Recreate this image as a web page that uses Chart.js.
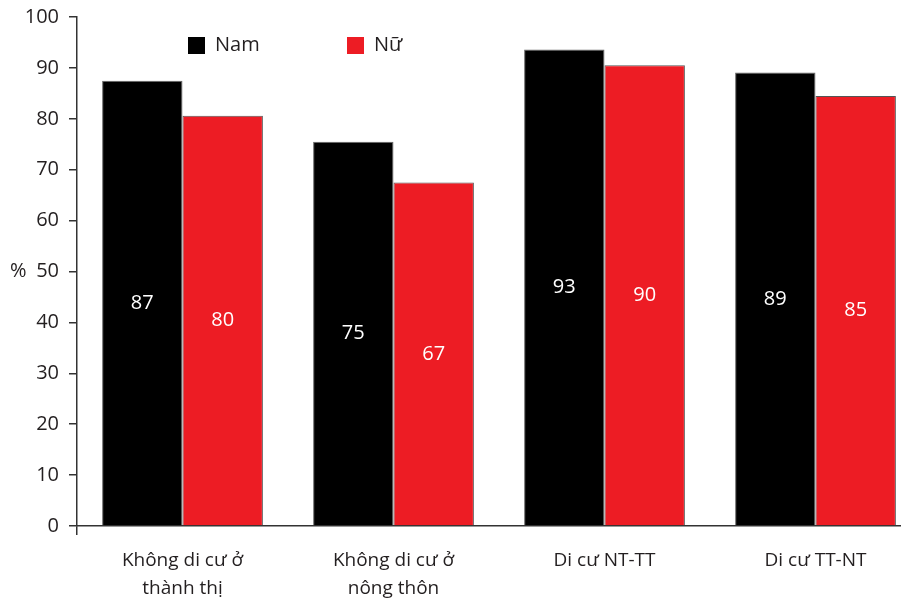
<!DOCTYPE html>
<html>
<head>
<meta charset="utf-8">
<script src="https://cdn.jsdelivr.net/npm/chart.js@4.4.0/dist/chart.umd.min.js"></script>
<style>
  html, body { margin: 0; padding: 0; background: #fff; overflow: hidden; }
  #wrap { width: 901px; height: 601px; overflow: hidden; }
  canvas { display: block; }
</style>
</head>
<body>
<div id="wrap"><canvas id="chart" width="921" height="601"></canvas></div>
<script>
  // categories and series
  const CATEGORIES = [
    ["Không di cư ở", "thành thị"],
    ["Không di cư ở", "nông thôn"],
    "Di cư NT-TT",
    "Di cư TT-NT",
  ];
  const NAM = [87.5, 75.5, 93.6, 89.1];
  const NU = [80.6, 67.5, 90.5, 84.5];
  // printed labels inside the bars
  const NAM_LABELS = ["87", "75", "93", "89"];
  const NU_LABELS = ["80", "67", "90", "85"];
  const Y_TICKS = [0, 10, 20, 30, 40, 50, 60, 70, 80, 90, 100];

  const FONT = "'Open Sans', 'Noto Sans', sans-serif";
  const INK = "#231f20";
  const AXIS = "#333333";

  const barLabels = {
    id: "barLabels",
    afterDatasetsDraw(chart) {
      const ctx = chart.ctx;
      const texts = [NAM_LABELS, NU_LABELS];
      ctx.save();
      ctx.font = "20px " + FONT;
      ctx.fillStyle = "#ffffff";
      ctx.textAlign = "center";
      ctx.textBaseline = "middle";
      chart.data.datasets.forEach((ds, d) => {
        chart.getDatasetMeta(d).data.forEach((bar, i) => {
          ctx.fillText(texts[d][i], bar.x, (bar.y + bar.base) / 2);
        });
      });
      ctx.restore();
    },
  };

  const insideLegend = {
    id: "insideLegend",
    afterDraw(chart) {
      const ctx = chart.ctx;
      const area = chart.chartArea;
      ctx.save();
      ctx.font = "20px " + FONT;
      ctx.textBaseline = "middle";
      ctx.textAlign = "left";
      chart.data.datasets.forEach((ds, d) => {
        const x = area.left + 111 + d * 159;
        const y = area.top + 28;
        ctx.fillStyle = ds.backgroundColor;
        ctx.fillRect(x, y - 8, 17, 17);
        ctx.fillStyle = INK;
        ctx.fillText(ds.label, x + 27, y);
      });
      ctx.restore();
    },
  };

  const percentTitle = {
    id: "percentTitle",
    afterDraw(chart) {
      const ctx = chart.ctx;
      const area = chart.chartArea;
      ctx.save();
      ctx.font = "20px " + FONT;
      ctx.fillStyle = INK;
      ctx.textAlign = "left";
      ctx.textBaseline = "middle";
      ctx.fillText("%", 10, (area.top + area.bottom) / 2);
      ctx.restore();
    },
  };

  new Chart(document.getElementById("chart"), {
    type: "bar",
    data: {
      labels: CATEGORIES,
      datasets: [
        {
          label: "Nam",
          data: NAM,
          backgroundColor: "#000000",
          borderColor: "#666666",
          borderWidth: 1,
          categoryPercentage: 0.762,
          barPercentage: 1.0,
        },
        {
          label: "Nữ",
          data: NU,
          backgroundColor: "#ed1c24",
          borderColor: "#555555",
          borderWidth: 1,
          categoryPercentage: 0.762,
          barPercentage: 1.0,
        },
      ],
    },
    options: {
      responsive: false,
      animation: false,
      layout: { padding: { top: 17, left: 0, right: 0, bottom: 0 } },
      plugins: {
        legend: { display: false },
        tooltip: { enabled: false },
      },
      scales: {
        x: {
          grid: {
            offset: true,
            drawOnChartArea: false,
            drawTicks: true,
            tickLength: 9,
            color: (c) => (c.index === 0 ? AXIS : "rgba(0,0,0,0)"),
            lineWidth: 1.5,
          },
          border: { color: AXIS, width: 1.5 },
          ticks: {
            color: INK,
            font: { family: FONT, size: 19, lineHeight: 1.45 },
            padding: 12,
            maxRotation: 0,
            autoSkip: false,
          },
          afterFit(scale) { scale.height = 75; },
        },
        y: {
          min: 0,
          max: 100,
          afterBuildTicks(scale) { scale.ticks = Y_TICKS.map((v) => ({ value: v })); },
          grid: {
            drawOnChartArea: false,
            drawTicks: true,
            tickLength: 8,
            color: AXIS,
            lineWidth: 1.5,
          },
          border: { color: AXIS, width: 1.5 },
          ticks: {
            color: INK,
            font: { family: FONT, size: 20, lineHeight: 0.6 },
            padding: 10,
          },
          afterFit(scale) { scale.width = 77; },
        },
      },
    },
    plugins: [barLabels, insideLegend, percentTitle],
  });
</script>
</body>
</html>
